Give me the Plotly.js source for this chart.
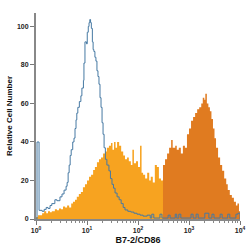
<!DOCTYPE html>
<html>
<head>
<meta charset="utf-8">
<script src="https://cdn.plot.ly/plotly-3.0.1.min.js"></script>
<style>html,body{margin:0;padding:0;background:#fff;}#chart{width:250px;height:250px;}</style>
</head>
<body>
<div id="chart"></div>
<script>
// x positions are log10 of fluorescence intensity; counts are relative cell numbers
const isoLogX = [0,0.02,0.06,0.12,0.16,0.2,0.235,0.275,0.31,0.37,0.41,0.47,0.51,0.55,0.59,0.61,0.63,0.65,0.67,0.69,0.72,0.745,0.765,0.785,0.80,0.82,0.85,0.88,0.90,0.93,0.94,0.96,0.99,1.005,1.025,1.04,1.055,1.07,1.085,1.105,1.12,1.135,1.155,1.175,1.195,1.215,1.235,1.255,1.275,1.295,1.315,1.335,1.36,1.39,1.43,1.46,1.49,1.52,1.55,1.59,1.63,1.67,1.71,1.745,1.8,1.86,1.92,1.98,2.04,2.1,2.18,2.24,2.27,2.31,2.43,2.47,2.59,2.63,2.73,2.76,2.80,2.84,3.04,3.08,3.14,3.18,3.31,3.39,3.45,3.49,3.61,3.65,3.76,3.80,3.92,3.96,4.0];
const isoCount = [0,40,4.5,4,5,6,5.5,7,8,10,9.5,11.5,13,15,17,19,24,28,33,36,40,42,47,51.5,55,58,61,64,68,72,81,92,91,97,100,102,103.6,102,99,92,88,87,84,82,77,74,70,63,58,50,44,37,31,28,25,21,18,16,13.5,11.5,10,8,6,4.7,4,3.6,3,2.5,2,1.5,2,0.5,2.5,0.5,2.5,0.5,2,0.5,2.5,0.5,2.5,0.5,2.5,0.5,2.5,0.5,3,0.5,2.5,0.5,2.5,0.5,2.5,0.5,2.5,3,0];

const cellsALogX = [0,0.04,0.08,0.12,0.16,0.2,0.235,0.275,0.31,0.37,0.41,0.45,0.49,0.53,0.57,0.61,0.65,0.69,0.725,0.765,0.80,0.84,0.88,0.92,0.96,1.0,1.04,1.08,1.12,1.155,1.195,1.235,1.275,1.315,1.355,1.39,1.43,1.47,1.50,1.53,1.56,1.59,1.63,1.67,1.71,1.745,1.785,1.82,1.86,1.89,1.92,1.96,2.0,2.04,2.07,2.10,2.14,2.18,2.22,2.25,2.29,2.33,2.37,2.41,2.45,2.49,2.55,2.61,2.67,2.73,2.78,2.84,2.88,2.92,2.98,3.04,3.10,3.16,3.22,3.27];
const cellsACount = [1,2,2,3,4,3,4,3.5,4,5,4.5,5.5,5,6.5,6,7,6,8,9,10,11.5,13,14,16.5,18,20,22,23,25.5,27,29.5,31,32,34,35,37,38,39.5,36,40,37,40,38,35,33,31,32,30,28,36,29,30,27,38,24,23,21,24,20,22,19,28,27,21,20,19,18,17,15.5,14,15,13,16,12,10,9,8,7,6,0];

const cellsBLogX = [2.47,2.49,2.53,2.57,2.61,2.65,2.68,2.73,2.76,2.80,2.84,2.88,2.92,2.96,3.0,3.04,3.08,3.12,3.16,3.20,3.24,3.27,3.30,3.32,3.35,3.38,3.41,3.44,3.47,3.50,3.53,3.57,3.61,3.65,3.69,3.73,3.76,3.80,3.84,3.88,3.92,3.95,3.98,4.0];
const cellsBCount = [0,28,31,34,37,41,37,38,36,37,34,38,37,44,47,51,53,55,57,58,60,63,62,65,60,58,56,52,47,42,37,32,28,25,21,18,15,12.5,11,9,7,8,4,0];

const xTickVals = [1,10,100,1000,10000];
const xTickText = ['10<sup>0</sup>','10<sup>1</sup>','10<sup>2</sup>','10<sup>3</sup>','10<sup>4</sup>'];
const yTickVals = [0,20,40,60,80,100];

const toLin = a => a.map(e => Math.pow(10, e));

const traces = [
  {x: toLin(cellsALogX), y: cellsACount, type:'scatter', mode:'lines', line:{shape:'hv', width:0, color:'#F7A320'}, fill:'tozeroy', fillcolor:'#F7A320', hoverinfo:'skip'},
  {x: toLin(cellsBLogX), y: cellsBCount, type:'scatter', mode:'lines', line:{shape:'hv', width:0, color:'#E07B20'}, fill:'tozeroy', fillcolor:'#E07B20', hoverinfo:'skip'},
  {x: toLin(isoLogX), y: isoCount, type:'scatter', mode:'lines', line:{shape:'hv', width:1, color:'#4679A3'}, hoverinfo:'skip'}
];

const layout = {
  width:250, height:250,
  margin:{l:36, r:10, t:13, b:31},
  paper_bgcolor:'#fff', plot_bgcolor:'#fff',
  showlegend:false,
  font:{family:'Liberation Sans, Arial, sans-serif', color:'#1a1a1a', size:8},
  xaxis:{
    type:'log', range:[0,4], tickmode:'array', tickvals:xTickVals, ticktext:xTickText,
    ticks:'outside', ticklen:4, tickcolor:'#777', tickwidth:1,
    showline:true, linecolor:'#888', linewidth:1.5, showgrid:false, zeroline:false,
    minor:{ticks:'outside', ticklen:2.5, tickcolor:'#888', dtick:'D1', showgrid:false},
    tickfont:{size:7, color:'#222', weight:'bold'},
    title:{text:'B7-2/CD86', font:{size:9, weight:'bold', color:'#111'}, standoff:4}
  },
  yaxis:{
    range:[0,107], tickmode:'array', tickvals:yTickVals,
    ticks:'outside', ticklen:4, tickcolor:'#777', tickwidth:1,
    showline:true, linecolor:'#888', linewidth:2, showgrid:false, zeroline:false,
    tickfont:{size:7, color:'#222', weight:'bold'},
    title:{text:'Relative Cell Number', font:{size:8, weight:'bold', color:'#111'}, standoff:3}
  }
};

Plotly.newPlot('chart', traces, layout, {staticPlot:true, displayModeBar:false});
</script>
</body>
</html>
